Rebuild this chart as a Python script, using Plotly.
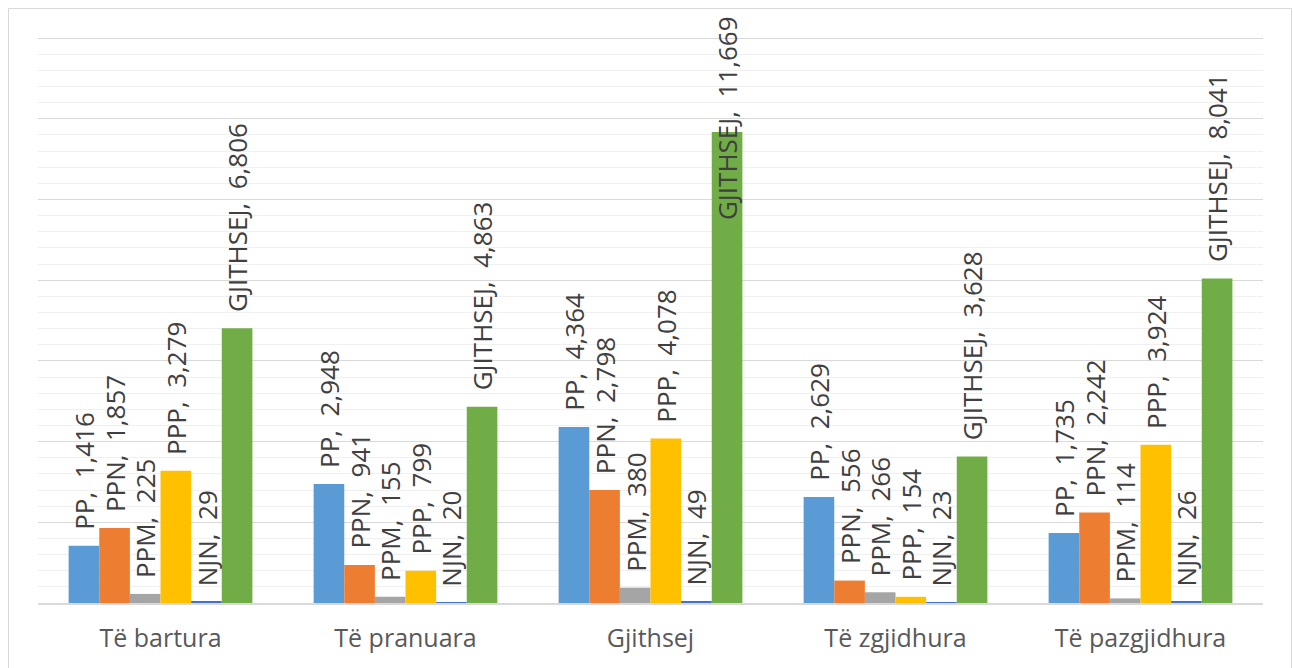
import plotly.graph_objects as go

categories = ["Të bartura", "Të pranuara", "Gjithsej", "Të zgjidhura", "Të pazgjidhura"]
series_names = ["PP", "PPN", "PPM", "PPP", "NJN", "GJITHSEJ"]
pp = [1416, 2948, 4364, 2629, 1735]
ppn = [1857, 941, 2798, 556, 2242]
ppm = [225, 155, 380, 266, 114]
ppp = [3279, 799, 4078, 154, 3924]
njn = [29, 20, 49, 23, 26]
gjithsej = [6806, 4863, 11669, 3628, 8041]
colors = ["#5B9BD5", "#ED7D31", "#A5A5A5", "#FFC000", "#4472C4", "#70AD47"]

series_values = [pp, ppn, ppm, ppp, njn, gjithsej]

W, H = 1293, 668
ML, MR, MT, MB = 38, 30, 37, 65
YMAX = 14000
YTOP = 14025
BARGAP = 0.25
plot_w = W - ML - MR
plot_h = H - MT - MB

fig = go.Figure()
for name, vals, col in zip(series_names, series_values, colors):
    fig.add_trace(go.Bar(x=categories, y=vals, name=name, marker=dict(color=col, line=dict(width=0))))

bar_w = plot_w / len(categories) * (1 - BARGAP) / len(series_names)
annotations = []
LABEL_FONT = dict(family="Open Sans", size=26, color="#404040")
for i, (name, vals) in enumerate(zip(series_names, series_values)):
    xshift = (i - (len(series_names) - 1) / 2) * bar_w
    for c, v in zip(categories, vals):
        text = f"{name},\u00a0\u00a0{v:,}"
        if v > 0.75 * YMAX:
            annotations.append(dict(x=c, xref="x", y=(plot_h + MT - 14) / plot_h, yref="paper",
                                    yanchor="top", xanchor="center", xshift=xshift,
                                    text=text, textangle=-90, showarrow=False, font=LABEL_FONT))
        else:
            annotations.append(dict(x=c, xref="x", y=v, yref="y", yanchor="bottom", xanchor="center",
                                    xshift=xshift, yshift=14, text=text, textangle=-90,
                                    showarrow=False, font=LABEL_FONT))

fig.update_layout(
    width=W, height=H,
    margin=dict(l=ML, r=MR, t=MT, b=MB),
    paper_bgcolor="white", plot_bgcolor="white",
    barmode="group", bargap=BARGAP, bargroupgap=0,
    showlegend=False,
    annotations=annotations,
    shapes=[dict(type="rect", xref="paper", yref="paper",
                 x0=(8.5 - ML) / plot_w, x1=(1291.5 - ML) / plot_w,
                 y0=(H - MB - 675) / plot_h, y1=(H - MB - 8.5) / plot_h,
                 line=dict(color="#D9D9D9", width=1), fillcolor="rgba(0,0,0,0)", layer="below")],
    xaxis=dict(showgrid=False, ticks="", showline=True, linecolor="#D9D9D9", linewidth=1.5,
               tickfont=dict(family="Open Sans", size=25, color="#595959"), ticklabelstandoff=12),
    yaxis=dict(range=[0, YTOP], dtick=2000, tick0=0, showticklabels=False, ticks="",
               showgrid=True, gridcolor="#D9D9D9", gridwidth=1, zeroline=False,
               minor=dict(dtick=400, tick0=0, showgrid=True, gridcolor="#F0F0F0", gridwidth=1)),
)

fig.write_html("out.html", config={"displayModeBar": False},
               post_script="document.body.style.margin='0';")
